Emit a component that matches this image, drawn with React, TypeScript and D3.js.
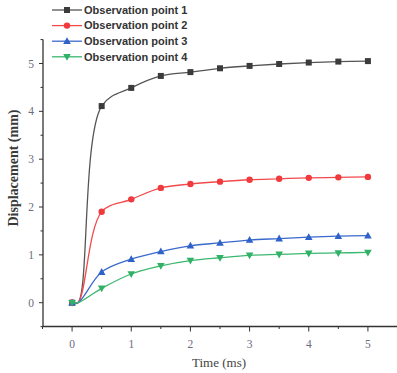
import React from "react";
import * as d3 from "d3";

const time = [0, 0.1, 0.5, 1, 1.5, 2, 2.5, 3, 3.5, 4, 4.5, 5];
const point1 = [0, 0, 4.11, 4.49, 4.74, 4.82, 4.9, 4.95, 4.99, 5.02, 5.04, 5.05];
const point2 = [0, 0, 1.9, 2.16, 2.4, 2.48, 2.53, 2.57, 2.59, 2.61, 2.62, 2.63];
const point3 = [0, 0, 0.64, 0.91, 1.07, 1.19, 1.25, 1.31, 1.34, 1.37, 1.39, 1.4];
const point4 = [0, 0, 0.3, 0.6, 0.77, 0.88, 0.94, 0.99, 1.01, 1.03, 1.04, 1.05];
const markerVisible = [true, false, true, true, true, true, true, true, true, true, true, true];
const seriesNames = ["Observation point 1", "Observation point 2", "Observation point 3", "Observation point 4"];
const seriesValues = [point1, point2, point3, point4];
const seriesColors = ["#3b3b3b", "#f03b3e", "#2f62c9", "#30b166"];
const lineColors = ["#555555", "#f24a4c", "#3a6acc", "#3ab86e"];
const seriesShapes = ["square", "circle", "triangleUp", "triangleDown"];
const majorTicks = [0, 1, 2, 3, 4, 5];
const minorTicks = [-0.5, 0.5, 1.5, 2.5, 3.5, 4.5, 5.5];
const xTitle = "Time (ms)";
const yTitle = "Displacement (mm)";

const W = 397;
const H = 373;

function Marker({ shape, x, y, color }: { shape: string; x: number; y: number; color: string }) {
  if (shape === "square") return <rect x={x - 3} y={y - 3} width={6} height={6} fill={color} />;
  if (shape === "circle") return <circle cx={x} cy={y} r={3.2} fill={color} />;
  if (shape === "triangleUp")
    return <path d={`M${x},${y - 4}L${x + 3.8},${y + 2.8}L${x - 3.8},${y + 2.8}Z`} fill={color} />;
  return <path d={`M${x},${y + 4}L${x + 3.8},${y - 2.8}L${x - 3.8},${y - 2.8}Z`} fill={color} />;
}

export default function App() {
  const x = d3.scaleLinear().domain([-0.5, 5.5]).range([42.5, 397.5]);
  const y = d3.scaleLinear().domain([0, 5]).range([302.7, 63.5]);
  const axisLeft = 43;
  const axisBottom = 326.5;
  const line = d3
    .line<[number, number]>()
    .x((d) => x(d[0]))
    .y((d) => y(d[1]))
    .curve(d3.curveCatmullRom.alpha(0.5));
  const tickColor = "#6c6c80";

  return (
    <svg width={W} height={H} style={{ position: "absolute", left: 0, top: 0, background: "#fff" }}>
      {/* axes */}
      <line x1={axisLeft} x2={axisLeft} y1={y(5.5)} y2={axisBottom} stroke="#333" strokeWidth={1.3} />
      <line x1={axisLeft} x2={x(5.5)} y1={axisBottom} y2={axisBottom} stroke="#333" strokeWidth={1.3} />
      {majorTicks.map((t) => (
        <g key={"ym" + t}>
          <line x1={axisLeft - 4} x2={axisLeft} y1={y(t)} y2={y(t)} stroke="#333" strokeWidth={1} />
          <text x={axisLeft - 9} y={y(t)} dy="0.35em" textAnchor="end" fontFamily="Liberation Serif" fontSize={11.5} fill={tickColor}>
            {t}
          </text>
        </g>
      ))}
      {minorTicks.map((t) => (
        <line key={"yn" + t} x1={axisLeft - 2.5} x2={axisLeft} y1={y(t)} y2={y(t)} stroke="#333" strokeWidth={1} />
      ))}
      {majorTicks.map((t) => (
        <g key={"xm" + t}>
          <line x1={x(t)} x2={x(t)} y1={axisBottom} y2={axisBottom + 5} stroke="#333" strokeWidth={1} />
          <text x={x(t)} y={axisBottom + 17} dy="0.35em" textAnchor="middle" fontFamily="Liberation Serif" fontSize={11.5} fill={tickColor}>
            {t}
          </text>
        </g>
      ))}
      {minorTicks.map((t) => (
        <line key={"xn" + t} x1={x(t)} x2={x(t)} y1={axisBottom} y2={axisBottom + 2.5} stroke="#333" strokeWidth={1} />
      ))}
      <text x={219} y={362} dy="0.35em" textAnchor="middle" fontFamily="Liberation Serif" fontSize={13} fill="#444">
        {xTitle}
      </text>
      <text
        transform={`translate(13,168) rotate(-90)`}
        dy="0.35em"
        textAnchor="middle"
        fontFamily="Liberation Serif"
        fontSize={14}
        fontWeight="bold"
        fill="#3a3a3a"
      >
        {yTitle}
      </text>

      {/* series */}
      {seriesValues.map((vals, i) => {
        const pts = time.map((t, j) => [t, vals[j]] as [number, number]);
        return (
          <g key={"s" + i}>
            <path d={line(pts) || ""} fill="none" stroke={lineColors[i]} strokeWidth={1.3} />
            {pts.map((p, j) =>
              markerVisible[j] ? <Marker key={j} shape={seriesShapes[i]} x={x(p[0])} y={y(p[1])} color={seriesColors[i]} /> : null
            )}
          </g>
        );
      })}

      {/* legend */}
      {seriesNames.map((name, i) => {
        const cy = 10 + i * 15.6;
        return (
          <g key={"l" + i}>
            <line x1={52} x2={82} y1={cy} y2={cy} stroke={lineColors[i]} strokeWidth={1.3} />
            <Marker shape={seriesShapes[i]} x={67} y={cy} color={seriesColors[i]} />
            <text x={84} y={cy} dy="0.35em" fontFamily="Liberation Sans" fontWeight="bold" fontSize={11} fill="#333">
              {name}
            </text>
          </g>
        );
      })}
    </svg>
  );
}
